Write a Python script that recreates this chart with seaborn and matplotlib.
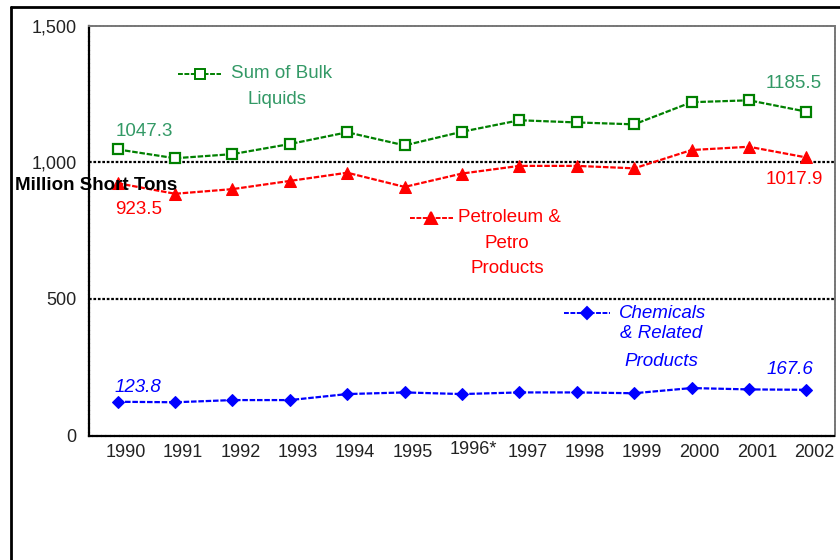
import numpy as np
import pandas as pd
import matplotlib
matplotlib.use("Agg")
import matplotlib.pyplot as plt
from matplotlib.transforms import ScaledTranslation
from matplotlib.lines import Line2D
import seaborn as sns

years = ["1990", "1991", "1992", "1993", "1994", "1995", "1996*", "1997",
         "1998", "1999", "2000", "2001", "2002"]
bulk_liquids = [1047.3, 1015, 1030, 1067, 1110, 1062, 1112, 1154, 1146, 1139, 1220, 1227, 1185.5]
petroleum = [923.5, 885, 902, 932, 962, 910, 959, 987, 987, 978, 1045, 1057, 1017.9]
chemicals = [123.8, 122, 130, 130, 152, 158, 152, 158, 158, 155, 174, 169, 167.6]
y_ticks = [0, 500, 1000, 1500]
y_tick_labels = ["0", "500", "1,000", "1,500"]

sns.set_theme(style="white")
plt.rcParams["font.family"] = ["Liberation Sans", "DejaVu Sans"]

GREEN = "#008000"
GREEN_TXT = "#339966"
RED = "#FF0000"
BLUE = "#0000FF"
FS = 13.5
TFS = 13

fig = plt.figure(figsize=(8.4, 5.6), dpi=100)
ax = fig.add_axes([89 / 840, 1 - 435.6 / 560, (835 - 89) / 840, (435.6 - 25.7) / 560])

x = np.arange(len(years))
df = pd.DataFrame({"x": x, "bulk": bulk_liquids, "pet": petroleum, "chem": chemicals})

ls = (0, (2.5, 0.8))
sns.lineplot(data=df, x="x", y="bulk", ax=ax, color=GREEN, lw=1.6, linestyle=ls,
             marker="s", markersize=7, markerfacecolor="white", markeredgecolor=GREEN,
             markeredgewidth=1.6, zorder=4)
sns.lineplot(data=df, x="x", y="pet", ax=ax, color=RED, lw=1.6, linestyle=ls,
             marker="^", markersize=9, markerfacecolor=RED, markeredgecolor=RED, zorder=4)
sns.lineplot(data=df, x="x", y="chem", ax=ax, color=BLUE, lw=1.6, linestyle=ls,
             marker="D", markersize=6.5, markerfacecolor=BLUE, markeredgecolor=BLUE, zorder=4)

ax.set_xlim(-0.5, len(years) - 0.5)
ax.set_ylim(0, 1500)
ax.set_xlabel("")
ax.set_ylabel("")

# gridlines
for yv in [500, 1000]:
    ax.axhline(yv, color="black", lw=1.6, linestyle=(0, (1.2, 0.8)), zorder=2)

# spines
for s in ["left", "bottom"]:
    ax.spines[s].set_color("black")
    ax.spines[s].set_linewidth(1.6)
    ax.spines[s].set_linestyle((0, (1.2, 0.8)))
for s in ["top", "right"]:
    ax.spines[s].set_color("#777777")
    ax.spines[s].set_linewidth(1.4)
    ax.spines[s].set_linestyle((0, (1.2, 0.8)))

ax.set_yticks(y_ticks)
ax.set_yticklabels(y_tick_labels)
ax.tick_params(axis="y", direction="out", length=4, width=1.2, color="black",
               labelsize=TFS, pad=5, labelcolor="#222222")

ax.set_xticks(np.arange(len(years) + 1) - 0.5)
ax.set_xticklabels([])
ax.tick_params(axis="x", which="major", direction="out", length=4, width=1.2, color="black")
ax.set_xticks(x, minor=True)
ax.set_xticklabels(years, minor=True)
ax.tick_params(axis="x", which="minor", length=0, labelsize=TFS, pad=6, labelcolor="#222222")
for lab in ax.get_xticklabels(minor=True):
    dy = 3 / 100 if lab.get_text() == "1996*" else 0
    dx = 11 / 100 if lab.get_text() == "1996*" else 8 / 100
    lab.set_transform(lab.get_transform() + ScaledTranslation(dx, dy, fig.dpi_scale_trans))


def fx(px):
    return px / 840


def fy(py):
    return 1 - py / 560


# outer frame (left and top lines)
fig.add_artist(Line2D([fx(11), fx(11)], [0, fy(7)], color="black", lw=2, transform=fig.transFigure))
fig.add_artist(Line2D([fx(11), 1], [fy(7), fy(7)], color="black", lw=2, transform=fig.transFigure))

fig.text(fx(15), fy(186), "Million Short Tons", fontsize=13.5, fontweight="bold",
         ha="left", va="center", color="black")


def legend_sample(x0, x1, y, color, marker, ms, mfc):
    fig.add_artist(Line2D([fx(x0), fx(x1)], [fy(y), fy(y)], color=color, lw=1.4,
                          linestyle=ls, transform=fig.transFigure))
    fig.add_artist(Line2D([fx((x0 + x1) / 2)], [fy(y)], marker=marker, markersize=ms,
                          markerfacecolor=mfc, markeredgecolor=color, markeredgewidth=1.4,
                          transform=fig.transFigure))


# green legend
legend_sample(178, 221, 74, GREEN, "s", 6.5, "white")
fig.text(fx(282), fy(74), "Sum of Bulk", fontsize=FS, color=GREEN_TXT, ha="center", va="center")
fig.text(fx(277), fy(100), "Liquids", fontsize=FS, color=GREEN_TXT, ha="center", va="center")

# red legend
legend_sample(410, 453, 218, RED, "^", 8, RED)
fig.text(fx(509), fy(218), "Petroleum &", fontsize=FS, color=RED, ha="center", va="center")
fig.text(fx(507), fy(244), "Petro", fontsize=FS, color=RED, ha="center", va="center")
fig.text(fx(507), fy(268), "Products", fontsize=FS, color=RED, ha="center", va="center")

# blue legend
legend_sample(564, 610, 313, BLUE, "D", 6, BLUE)
fig.text(fx(663), fy(313), "Chemicals", fontsize=FS, color=BLUE, ha="center", va="center", style="italic")
fig.text(fx(661), fy(334), "& Related", fontsize=FS, color=BLUE, ha="center", va="center", style="italic")
fig.text(fx(661), fy(362), "Products", fontsize=FS, color=BLUE, ha="center", va="center", style="italic")

# data labels
fig.text(fx(144), fy(132), f"{bulk_liquids[0]:.1f}", fontsize=FS, color=GREEN_TXT, ha="center", va="center")
fig.text(fx(794), fy(84), f"{bulk_liquids[-1]:.1f}", fontsize=FS, color=GREEN_TXT, ha="center", va="center")
fig.text(fx(139), fy(209), f"{petroleum[0]:.1f}", fontsize=FS, color=RED, ha="center", va="center")
fig.text(fx(794), fy(180), f"{petroleum[-1]:.1f}", fontsize=FS, color=RED, ha="center", va="center")
fig.text(fx(138), fy(387), f"{chemicals[0]:.1f}", fontsize=FS, color=BLUE, ha="center", va="center", style="italic")
fig.text(fx(790), fy(370), f"{chemicals[-1]:.1f}", fontsize=FS, color=BLUE, ha="center", va="center", style="italic")

fig.savefig("out.png", dpi=100)
